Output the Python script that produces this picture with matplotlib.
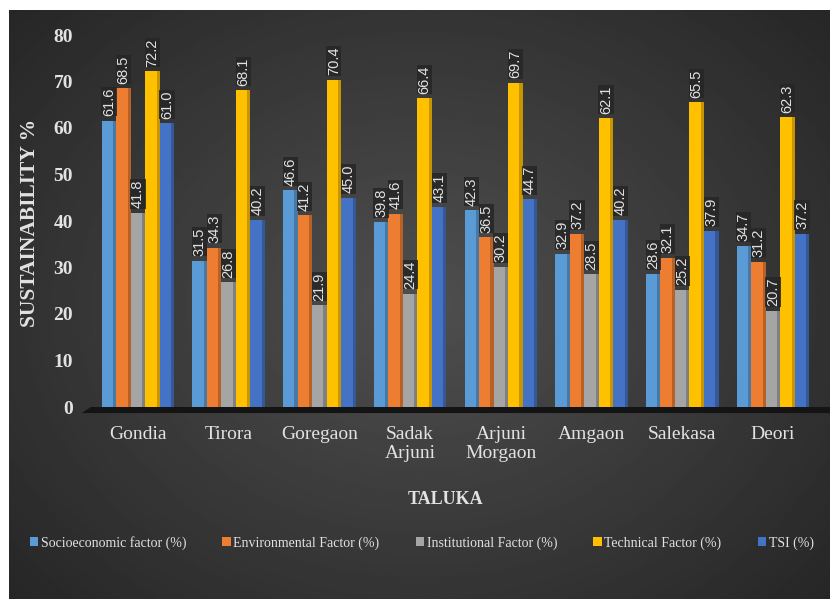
import numpy as np
import matplotlib.pyplot as plt
from matplotlib.patches import Polygon, Rectangle

# ==== DATOS ====
talukas = ["Gondia", "Tirora", "Goregaon", "Sadak\nArjuni", "Arjuni\nMorgaon",
           "Amgaon", "Salekasa", "Deori"]
socio = [61.6, 31.5, 46.6, 39.8, 42.3, 32.9, 28.6, 34.7]
environ = [68.5, 34.3, 41.2, 41.6, 36.5, 37.2, 32.1, 31.2]
instit = [41.8, 26.8, 21.9, 24.4, 30.2, 28.5, 25.2, 20.7]
technical = [72.2, 68.1, 70.4, 66.4, 69.7, 62.1, 65.5, 62.3]
tsi = [61.0, 40.2, 45.0, 43.1, 44.7, 40.2, 37.9, 37.2]
series_names = ["Socioeconomic factor (%)", "Environmental Factor (%)",
                "Institutional Factor (%)", "Technical Factor (%)", "TSI (%)"]
colors = ["#5B9BD5", "#ED7D31", "#A5A5A5", "#FFC000", "#4472C4"]
# ================

plt.rcParams["font.family"] = ["Liberation Serif", "DejaVu Serif"]
TXT = "#e2e2e2"

fig = plt.figure(figsize=(8.3, 5.99), dpi=100)
fig.patch.set_facecolor("white")

# fondo oscuro con degradado radial
bg = fig.add_axes([9 / 830, 0, 1 - 9 / 830, 1 - 10 / 599])
yy, xx = np.mgrid[-1:1:300j, -1:1:400j]
r = np.sqrt(xx ** 2 + (yy * 0.9) ** 2)
grad = np.clip(1 - r / 1.35, 0, 1)
bg.imshow(0.15 + 0.16 * grad, cmap="gray", vmin=0, vmax=1, aspect="auto",
          extent=[0, 1, 0, 1])
bg.set_axis_off()

ax = fig.add_axes([0.1116, 1 - 407 / 599, 0.8743, (407 - 35) / 599])
ax.set_facecolor("none")
ax.set_xlim(-0.5, 7.5)
ax.set_ylim(0, 80)

x = np.arange(len(talukas))
w = 0.16
data = [socio, environ, instit, technical, tsi]

# piso 3D
floor = Polygon([(-0.62, -1.3), (7.72, -1.3), (7.82, 0), (-0.52, 0)],
                closed=True, facecolor="#141414", edgecolor="none",
                clip_on=False, zorder=1)
ax.add_patch(floor)

for i, (vals, col) in enumerate(zip(data, colors)):
    xs = x + (i - 2) * w
    ax.bar(xs, vals, width=w, color=col, zorder=2, label=series_names[i])
    for xv, v in zip(xs, vals):
        # cara lateral oscura
        ax.add_patch(Rectangle((xv + w / 2 - 0.035, 0), 0.035, v,
                               facecolor="black", alpha=0.22,
                               edgecolor="none", zorder=3))
        ax.text(xv, v + 1.0, f"{v:.1f}", rotation=90, ha="center",
                va="bottom", fontsize=10.5, color=TXT,
                family="Liberation Sans", zorder=5,
                bbox=dict(facecolor="#262626", alpha=0.85, edgecolor="none",
                          pad=0.4))

ax.set_yticks(np.arange(0, 81, 10))
ax.set_yticklabels([str(t) for t in range(0, 81, 10)],
                   fontsize=14, fontweight="bold", color=TXT)
ax.set_xticks(x)
ax.set_xticklabels(talukas, fontsize=14, color=TXT, linespacing=1.1,
                   fontfamily="Liberation Serif")
ax.tick_params(axis="both", length=0)
ax.tick_params(axis="y", pad=14)
ax.tick_params(axis="x", pad=14)
for s in ax.spines.values():
    s.set_visible(False)

fig.text(30 / 830, 1 - 223 / 599, "SUSTAINABILITY %", rotation=90,
         ha="center", va="center", fontsize=15.5,
         fontweight="bold", color=TXT)
fig.text(445 / 830, 1 - 500 / 599, "TALUKA", ha="center", va="center",
         fontsize=13, fontweight="bold", color=TXT)

leg = fig.legend(loc="center", bbox_to_anchor=(0.508, 1 - 543 / 599),
                 ncol=5, frameon=False, handlelength=0.6, handleheight=0.6,
                 handletextpad=0.2, columnspacing=2.6,
                 prop={"size": 10})
for t in leg.get_texts():
    t.set_color(TXT)

fig.savefig("out.png", dpi=100)
